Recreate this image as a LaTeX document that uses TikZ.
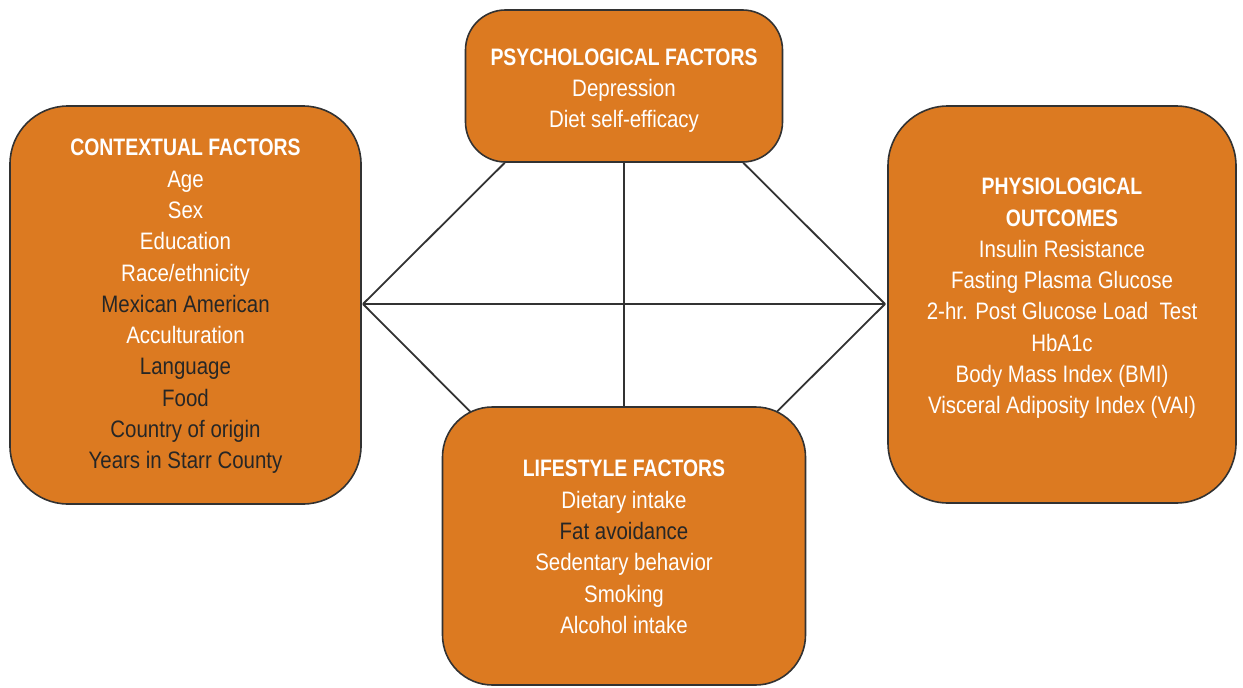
\documentclass[tikz,border=0pt]{standalone}
\usepackage{fontspec}
\setmainfont{Liberation Sans}
\newfontfamily\bodyf[FakeStretch=0.86]{Liberation Sans}
\newfontfamily\headf[FakeStretch=0.815]{Liberation Sans Bold}
\usetikzlibrary{backgrounds}
\definecolor{boxfill}{RGB}{220,122,33}
\definecolor{edge}{RGB}{50,50,50}
\definecolor{darktxt}{RGB}{38,38,38}
\newcommand\hd[1]{{\headf #1}}
\newcommand\dk[1]{\textcolor{darktxt}{#1}}
\begin{document}
\begin{tikzpicture}[x=1pt,y=-1pt,
  box/.style={draw=edge,line width=1.6pt,fill=boxfill,inner sep=0pt},
  txt/.style={align=center,text=white,font=\fontsize{23.8}{31.3}\bodyf,inner sep=0pt},
  link/.style={draw=edge,line width=1.8pt}]
\useasboundingbox (0,0) rectangle (1243,688);

\node[box,minimum width=351pt,minimum height=398pt,rounded corners=58pt] (ctx) at (185.5,305) {};
\node[box,minimum width=317pt,minimum height=152pt,rounded corners=40pt] (psy) at (624,86) {};
\node[box,minimum width=348pt,minimum height=397pt,rounded corners=60pt] (phy) at (1062,304.5) {};
\node[box,minimum width=363pt,minimum height=278pt,rounded corners=50pt] (lif) at (624,546) {};

\node[txt] (ctxT) at (185.5,306.5) {\hd{CONTEXTUAL FACTORS}\\Age\\Sex\\Education\\Race/ethnicity\\
  \dk{Mexican American}\\Acculturation\\\dk{Language}\\\dk{Food}\\\dk{Country of origin}\\\dk{Years in Starr County}};
\node[txt] (psyT) at (624,90.5) {\hd{PSYCHOLOGICAL FACTORS}\\Depression\\Diet self-efficacy};
\node[txt] (phyT) at (1062,298.5) {\hd{PHYSIOLOGICAL}\\\hd{OUTCOMES}\\Insulin Resistance\\Fasting Plasma Glucose\\
  2-hr. Post Glucose Load~ Test\\HbA1c\\Body Mass Index (BMI)\\Visceral Adiposity Index (VAI)};
\node[txt] (lifT) at (624,547) {\hd{LIFESTYLE FACTORS}\\Dietary intake\\\dk{Fat avoidance}\\Sedentary behavior\\Smoking\\Alcohol intake};

\begin{scope}[on background layer]
  \fill[white] (0,0) rectangle (1243,688);
  \coordinate (L) at (363,304);
  \coordinate (R) at (885,304);
  \draw[link] (L) -- ([xshift=40pt]psy.south west);
  \draw[link] (R) -- ([xshift=-40pt]psy.south east);
  \draw[link] (L) -- ([xshift=50pt,yshift=-27pt]lif.north west);
  \draw[link] (R) -- ([xshift=-51pt,yshift=-27pt]lif.north east);
  \draw[link] (L) -- (R);
  \draw[link] (psy.south) -- (lif.north);
\end{scope}
\end{tikzpicture}
\end{document}
